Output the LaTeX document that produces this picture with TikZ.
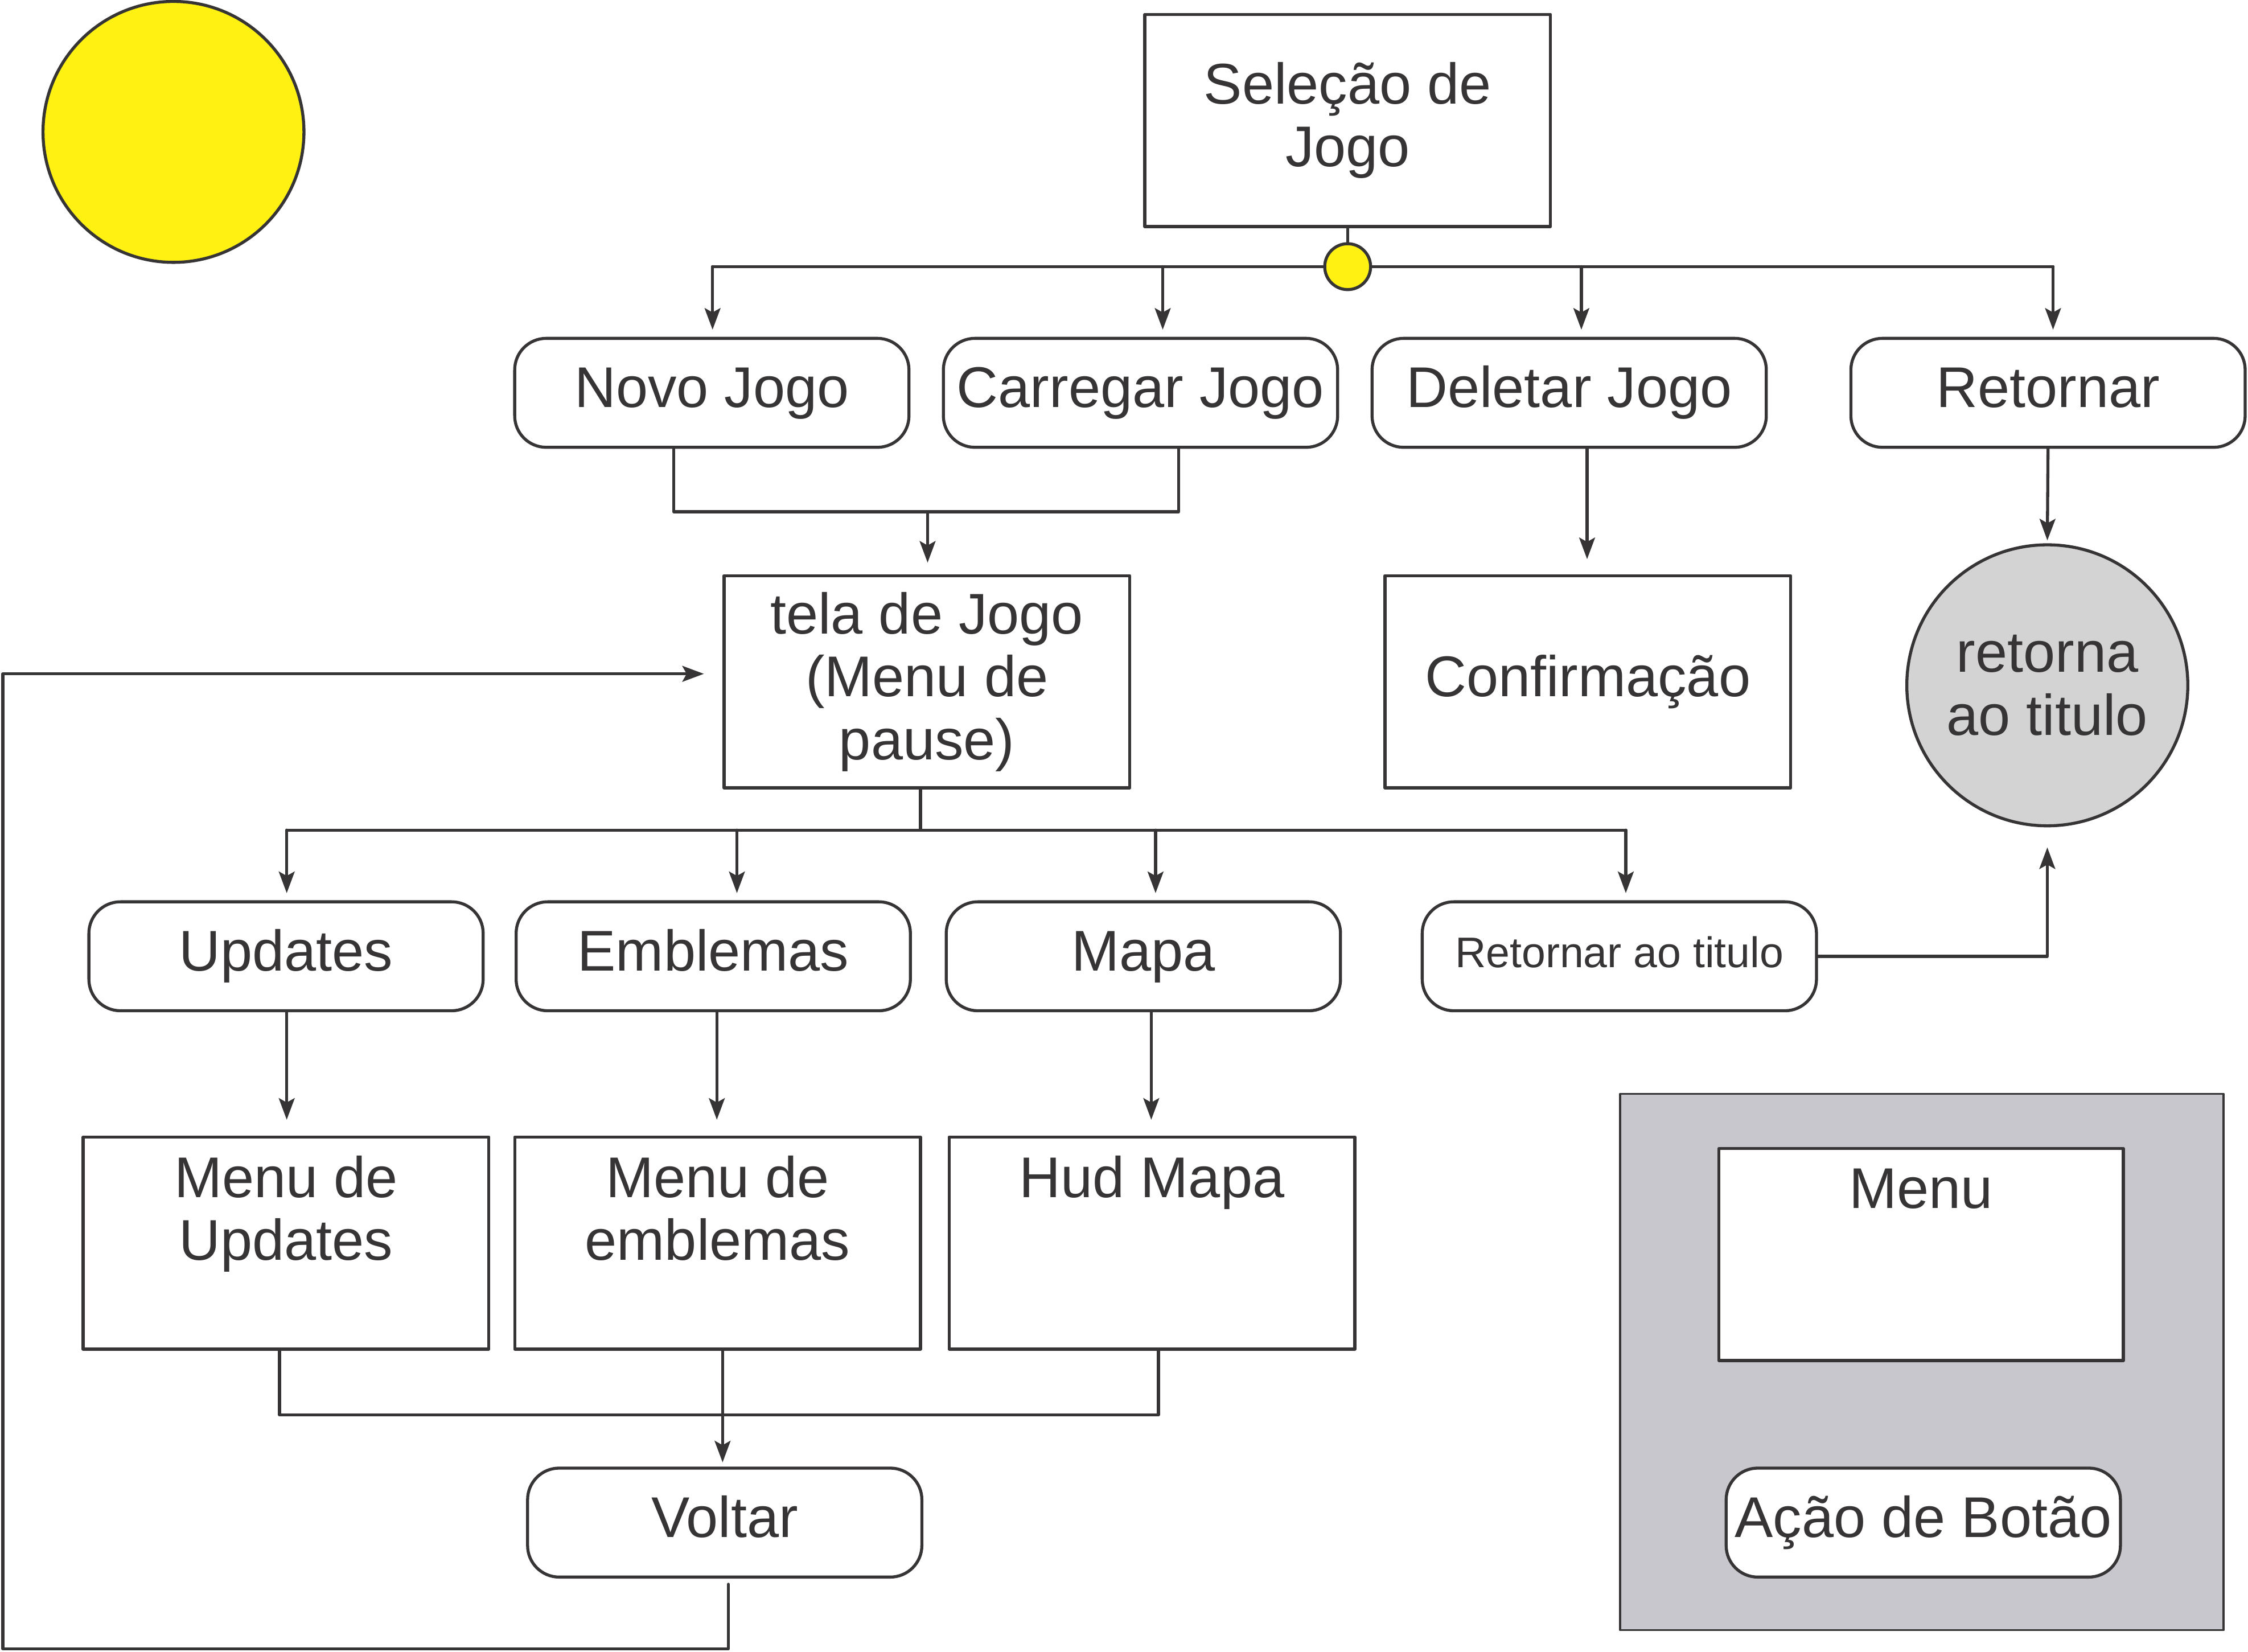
\documentclass[tikz,border=0pt]{standalone}
\usepackage{fontspec}
\setmainfont{Liberation Sans}
\usetikzlibrary{arrows.meta}
\definecolor{ink}{HTML}{373435}
\definecolor{sun}{HTML}{FFF212}
\definecolor{ash}{HTML}{D3D3D3}
\definecolor{panel}{HTML}{C9C7CE}
\newcommand{\labelfont}{\fontsize{11.4pt}{12.5pt}\selectfont}
\newcommand{\smallfont}{\fontsize{8.5pt}{10pt}\selectfont}
\newcommand{\drop}[2]{
  \draw[->, shorten > = 0.05cm] (#1) -- (#1 |- #2.north);}

\begin{document}
\begin{tikzpicture}[line cap = round, line join = round, line width = 0.6pt, ink,
  >={Stealth[length = 0.15cm, width = 0.11cm, inset = 0.03cm]},
  screen/.style = {draw, fill = white, minimum width = 2.83cm,
    minimum height = 1.48cm, align = center, font = \labelfont, inner sep = 0},
  button/.style = {draw, fill = white, rounded corners = 0.22cm,
    minimum width = 2.75cm, minimum height = 0.76cm, font = \labelfont,
    text height = 0.29cm, text depth = 0.085cm, inner sep = 0}]
  \useasboundingbox (0, 0) rectangle (15.68cm, -11.52cm);

  \node[circle, draw, fill = sun, minimum size = 1.82cm] (sun) at (1.21cm, -0.92cm) {};

  % top level
  \node[screen] (selecao) at (9.40cm, -0.84cm) {Seleção de\\Jogo};

  \node[button] (novo) at (4.965cm, -2.74cm) {Novo Jogo};
  \node[button] (carregar) at (7.955cm, -2.74cm) {Carregar Jogo};
  \node[button] (deletar) at (10.945cm, -2.74cm) {Deletar Jogo};
  \node[button] (retornar) at (14.285cm, -2.74cm) {Retornar};

  \coordinate (s1) at (4.97cm, -1.86cm);
  \coordinate (s2) at (8.11cm, -1.86cm);
  \coordinate (s3) at (11.03cm, -1.86cm);
  \coordinate (s4) at (14.32cm, -1.86cm);
  \draw (s1) -- (s4);
  \drop{s1}{novo}
  \drop{s2}{carregar}
  \drop{s3}{deletar}
  \drop{s4}{retornar}
  \node[circle, draw, fill = sun, minimum size = 0.32cm, inner sep = 0] (dot)
    at (9.40cm, -1.86cm) {};
  \draw (selecao.south) -- (dot.north);

  % second level
  \node[screen] (tela) at (6.465cm, -4.755cm) {tela de Jogo\\(Menu de\\pause)};
  \node[screen] (confirma) at (11.075cm, -4.755cm) {Confirmação};
  \node[circle, draw, fill = ash, minimum size = 1.96cm, align = center,
    font = \labelfont, inner sep = 0] (titulo) at (14.28cm, -4.78cm) {retorna\\ao titulo};

  \coordinate (n1) at (4.70cm, -3.57cm);
  \coordinate (n2) at (8.22cm, -3.57cm);
  \coordinate (nm) at (6.47cm, -3.57cm);
  \draw (n1 |- novo.south) -- (n1) -- (n2) -- (n2 |- carregar.south);
  \draw[->, shorten > = 0.08cm] (nm) -- (nm |- tela.north);
  \draw[->, shorten > = 0.11cm] (11.07cm, -3.12cm) -- (11.07cm, -4.01cm);
  \draw[->, shorten > = 0.02cm] (retornar.south) -- (titulo.north);

  % pause menu
  \node[button] (updates) at (1.995cm, -6.67cm) {Updates};
  \node[button] (emblemas) at (4.975cm, -6.67cm) {Emblemas};
  \node[button] (mapa) at (7.975cm, -6.67cm) {Mapa};
  \node[button, font = \smallfont, text height = 0.22cm, text depth = 0.065cm]
    (rettitulo) at (11.295cm, -6.67cm) {Retornar ao titulo};

  \coordinate (p1) at (2.00cm, -5.79cm);
  \coordinate (p2) at (5.14cm, -5.79cm);
  \coordinate (p3) at (8.06cm, -5.79cm);
  \coordinate (p4) at (11.34cm, -5.79cm);
  \draw (6.42cm, -5.50cm) -- (6.42cm, -5.79cm);
  \draw (p1) -- (p4);
  \drop{p1}{updates}
  \drop{p2}{emblemas}
  \drop{p3}{mapa}
  \drop{p4}{rettitulo}

  \draw[->, shorten > = 0.14cm] (rettitulo.east) -| (titulo.south);

  % third level
  \node[screen] (mupdates) at (1.995cm, -8.67cm) {};
  \node[screen] (memblemas) at (5.005cm, -8.67cm) {};
  \node[screen] (hud) at (8.035cm, -8.67cm) {};
  \node[anchor = north, align = center, font = \labelfont, inner sep = 0]
    (mupdatestxt) at ([yshift = -0.13cm] mupdates.north) {Menu de\\Updates};
  \node[anchor = north, align = center, font = \labelfont, inner sep = 0]
    (memblemastxt) at ([yshift = -0.13cm] memblemas.north) {Menu de\\emblemas};
  \node[anchor = north, align = center, font = \labelfont, inner sep = 0]
    (hudtxt) at ([yshift = -0.13cm] hud.north) {Hud Mapa};

  \draw[->, shorten > = 0.12cm] (2.00cm, -7.05cm) -- (2.00cm, -7.93cm);
  \draw[->, shorten > = 0.12cm] (5.00cm, -7.05cm) -- (5.00cm, -7.93cm);
  \draw[->, shorten > = 0.12cm] (8.03cm, -7.05cm) -- (8.03cm, -7.93cm);

  \node[button] (voltar) at (5.055cm, -10.62cm) {Voltar};

  \coordinate (v1) at (1.95cm, -9.87cm);
  \coordinate (v2) at (8.08cm, -9.87cm);
  \draw (v1 |- mupdates.south) -- (v1) -- (v2) -- (v2 |- hud.south);
  \draw[->, shorten > = 0.04cm] (5.04cm, -9.41cm) -- (5.04cm, -10.24cm);

  \coordinate (loop) at (0.02cm, -11.50cm);
  \draw[->, shorten > = 0.13cm] (5.08cm, -11.05cm) -- (5.08cm, -11.50cm) -- (loop)
    -- (loop |- 0, -4.70cm) -- (tela.west |- 0, -4.70cm);

  % legend
  \fill[panel] (11.30cm, -7.63cm) rectangle (15.51cm, -11.37cm);
  \draw[line width = 0.4pt] (11.30cm, -7.63cm) rectangle (15.51cm, -11.37cm);
  \node[screen, minimum width = 2.82cm] (menu) at (13.40cm, -8.75cm) {};
  \node[anchor = north, font = \labelfont, inner sep = 0] (menutxt)
    at ([yshift = -0.14cm] menu.north) {Menu};
  \node[button] (acao) at (13.415cm, -10.62cm) {Ação de Botão};
\end{tikzpicture}
\end{document}
